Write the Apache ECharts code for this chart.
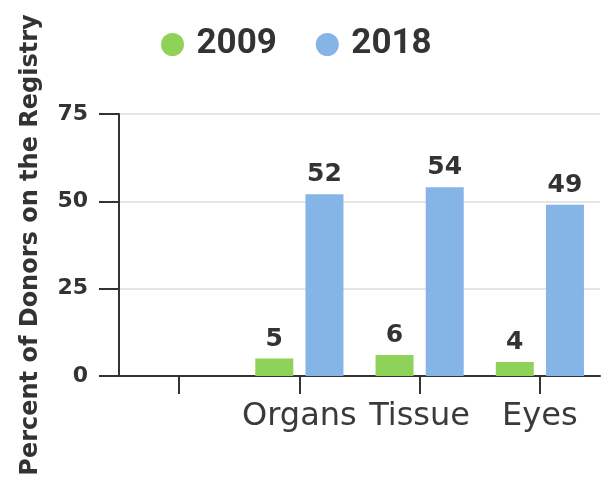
<!DOCTYPE html>
<html>
<head>
<meta charset="utf-8">
<script src="https://cdn.jsdelivr.net/npm/echarts@6/dist/echarts.min.js"></script>
<style>
html,body{margin:0;padding:0;background:#fff;}
#chart{width:605px;height:481px;}
</style>
</head>
<body>
<div id="chart"></div>
<script>
const categories = ['', 'Organs', 'Tissue', 'Eyes'];
const seriesNames = ['2009', '2018'];
const values2009 = [null, 5, 6, 4];
const values2018 = [null, 52, 54, 49];
const yTicks = [0, 25, 50, 75];

const chart = echarts.init(document.getElementById('chart'), null, {renderer: 'canvas'});
const valueLabel = {
  show: true, position: 'top', distance: 7,
  fontFamily: 'DejaVu Sans', fontWeight: 'bold', fontSize: 25, color: '#333'
};
chart.setOption({
  animation: false,
  backgroundColor: '#fff',
  legend: {
    top: 22, left: 156,
    icon: 'circle', itemWidth: 38, itemHeight: 23, itemGap: 39,
    textStyle: {fontFamily: "Roboto", fontWeight: 'bold', fontSize: 35, color: '#333', padding: [0, 0, 12, 0]},
    data: seriesNames
  },
  grid: {left: 119, right: 5, top: 114, bottom: 105, containLabel: false},
  xAxis: {
    type: 'category', data: categories,
    axisLine: {show: true, lineStyle: {color: '#333', width: 2}},
    axisTick: {show: true, interval: 0, alignWithLabel: true, length: 18, lineStyle: {color: '#333', width: 2}},
    axisLabel: {fontFamily: 'DejaVu Sans', fontSize: 32, color: '#3a3a3a', margin: 25, interval: 0}
  },
  yAxis: {
    type: 'value', min: yTicks[0], max: yTicks[yTicks.length - 1], interval: 25,
    name: 'Percent of Donors on the Registry', nameLocation: 'middle', nameGap: 76,
    nameTextStyle: {fontFamily: 'DejaVu Sans', fontWeight: 'bold', fontSize: 24, color: '#333'},
    axisLine: {show: true, lineStyle: {color: '#333', width: 2}},
    axisTick: {show: true, length: 20, lineStyle: {color: '#333', width: 2}},
    axisLabel: {fontFamily: 'DejaVu Sans', fontWeight: 'bold', fontSize: 22, color: '#333', margin: 31},
    splitLine: {lineStyle: {color: '#e6e6e6', width: 2}}
  },
  series: [
    {name: seriesNames[0], type: 'bar', data: values2009, barWidth: 38, barGap: '32%',
     itemStyle: {color: '#8FD25A'}, label: valueLabel},
    {name: seriesNames[1], type: 'bar', data: values2018, barWidth: 38,
     itemStyle: {color: '#85B4E7'}, label: valueLabel}
  ]
});
</script>
</body>
</html>
